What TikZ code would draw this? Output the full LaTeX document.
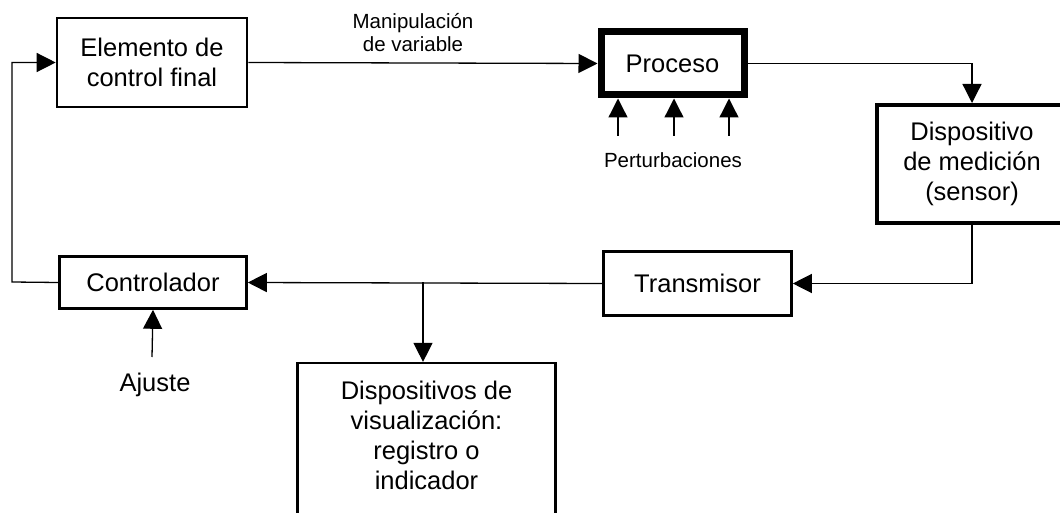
\documentclass[tikz,border=0pt]{standalone}
\usepackage{fontspec}
\setmainfont{Liberation Sans}
\usetikzlibrary{positioning,calc,arrows.meta}

\begin{document}
\begin{tikzpicture}[x=1pt,y=-1pt,auto]
                    \tikzstyle{every node}=[fill=none,rectangle,draw,inner sep=0,align=center,font=\fontsize{25.5}{30}\selectfont]
                    \tikzstyle{block}=[line width=2.6pt]
                    \tikzstyle{note}=[draw=none,font=\fontsize{20.5}{23}\selectfont]
                    \tikzstyle{flow}=[line width=1.3pt,-{Triangle[length=19pt,width=19pt]}]
                    {
                        \useasboundingbox (0,0) rectangle (1060,513);

                        \node[block,minimum width=190,minimum height=89] (elem) at (152,62.5) {Elemento de\\control final};
                        \node[block,line width=7pt,minimum width=143,minimum height=63] (proc) at (672.5,63.5) {Proceso};
                        \node[block,line width=4pt,minimum width=190,minimum height=118] (sens) at (972,164) {Dispositivo\\de medición\\(sensor)};
                        \node[block,minimum width=188,minimum height=64] (trans) at (697.5,283.5) {Transmisor};
                        \node[block,minimum width=187,minimum height=52] (ctrl) at (153,282.5) {Controlador};
                        \node[block,line width=2.2pt,minimum width=258,minimum height=160] (visu) at (426.5,443) {\\[-26pt]Dispositivos de\\visualización:\\registro o\\indicador};

                        \node[note] (manip) at (413,33) {Manipulación\\de variable};
                        \node[note] (pert) at (673,160) {Perturbaciones};
                        \node[draw=none] (ajus) at (155,385) {Ajuste};

                        \coordinate (fb) at (12,282);
                        \coordinate (br) at (423,282);
                        \coordinate (aj) at (152,357);
                        \coordinate (p1) at (618,136);
                        \coordinate (p2) at (674,136);
                        \coordinate (p3) at (729,136);

                        \path[flow]
                            (elem.east) edge (proc.west)
                            (trans.west) edge (ctrl.east)
                            (aj) edge (ctrl.south)
                            (br) edge (br |- visu.north)
                            (p1) edge (p1 |- proc.south)
                            (p2) edge (p2 |- proc.south)
                            (p3) edge (p3 |- proc.south);

                        \draw[flow] (proc.east) -| (sens.north);
                        \draw[flow] (sens.south) |- (trans.east);
                        \draw[flow] (ctrl.west) -- (fb) |- (elem.west);
                    }
                \end{tikzpicture}
\end{document}
